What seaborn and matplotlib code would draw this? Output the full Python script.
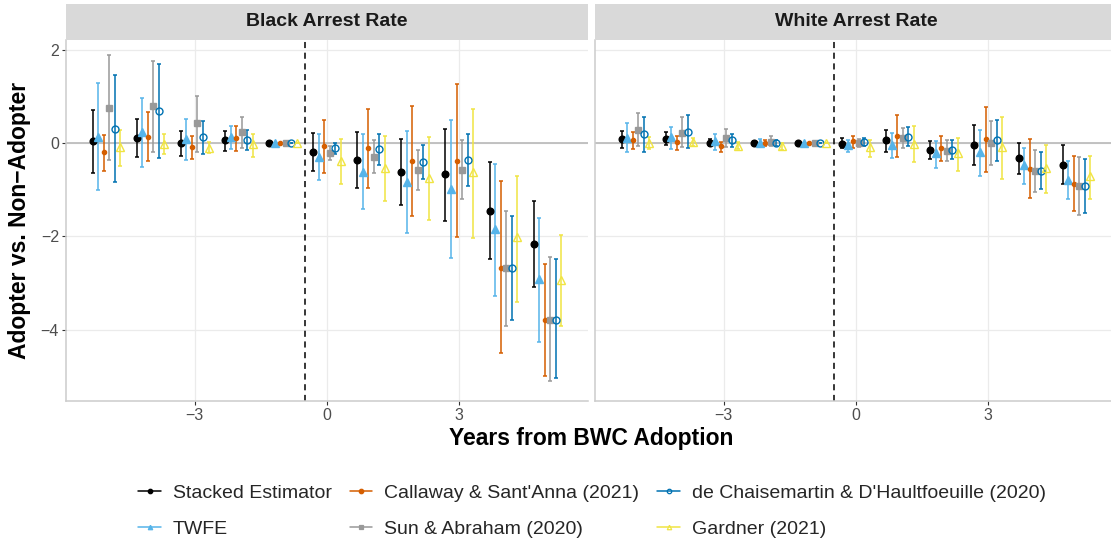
import matplotlib
matplotlib.use("Agg")
import matplotlib.pyplot as plt
from matplotlib.lines import Line2D
import numpy as np
import pandas as pd
import seaborn as sns

# ---- data -------------------------------------------------------------
EVENT_TIME = [-5, -4, -3, -2, -1, 0, 1, 2, 3, 4, 5]
PANELS = ["Black Arrest Rate", "White Arrest Rate"]
ESTIMATORS = [
    "Stacked Estimator",
    "TWFE",
    "Callaway & Sant'Anna (2021)",
    "Sun & Abraham (2020)",
    "de Chaisemartin & D'Haultfoeuille (2020)",
    "Gardner (2021)",
]

# Black arrest rate: point estimates and 95% CI bounds
black_stacked_est = [0.04, 0.11, 0.00, 0.06, 0, -0.19, -0.36, -0.61, -0.67, -1.46, -2.16]
black_stacked_lo = [-0.63, -0.29, -0.27, -0.16, 0, -0.59, -0.96, -1.32, -1.66, -2.49, -3.09]
black_stacked_hi = [0.70, 0.51, 0.25, 0.27, 0, 0.21, 0.24, 0.09, 0.31, -0.41, -1.24]

black_twfe_est = [0.14, 0.23, 0.09, 0.14, 0, -0.30, -0.61, -0.83, -0.98, -1.84, -2.91]
black_twfe_lo = [-1.00, -0.51, -0.36, -0.13, 0, -0.79, -1.41, -1.93, -2.47, -3.27, -4.26]
black_twfe_hi = [1.29, 0.96, 0.51, 0.37, 0, 0.19, 0.19, 0.25, 0.49, -0.44, -1.60]

black_cs_est = [-0.19, 0.14, -0.09, 0.10, 0, -0.07, -0.11, -0.39, -0.39, -2.67, -3.80]
black_cs_lo = [-0.59, -0.39, -0.34, -0.16, 0, -0.65, -0.96, -1.56, -2.02, -4.50, -5.00]
black_cs_hi = [0.18, 0.66, 0.16, 0.36, 0, 0.50, 0.74, 0.79, 1.27, -0.82, -2.59]

black_sa_est = [0.75, 0.80, 0.43, 0.24, 0, -0.21, -0.30, -0.57, -0.57, -2.68, -3.80]
black_sa_lo = [-0.36, -0.20, -0.20, -0.10, 0, -0.36, -0.64, -1.00, -1.20, -3.91, -5.09]
black_sa_hi = [1.88, 1.77, 1.02, 0.55, 0, -0.07, 0.06, -0.14, 0.06, -1.46, -2.43]

black_dcdh_est = [0.31, 0.69, 0.13, 0.06, 0, -0.11, -0.13, -0.40, -0.36, -2.68, -3.80]
black_dcdh_lo = [-0.83, -0.31, -0.23, -0.14, 0, -0.24, -0.46, -0.76, -0.91, -3.79, -5.04]
black_dcdh_hi = [1.45, 1.70, 0.48, 0.29, 0, 0.01, 0.19, -0.05, 0.20, -1.56, -2.49]

black_gardner_est = [-0.09, -0.02, -0.11, -0.01, 0, -0.38, -0.53, -0.74, -0.62, -2.02, -2.93]
black_gardner_lo = [-0.49, -0.24, -0.21, -0.29, 0, -0.87, -1.23, -1.64, -2.04, -3.40, -3.91]
black_gardner_hi = [0.29, 0.19, 0.02, 0.19, 0, 0.09, 0.16, 0.13, 0.73, -0.70, -1.96]

# White arrest rate: point estimates and 95% CI bounds
white_stacked_est = [0.08, 0.09, 0.01, 0.01, 0, -0.01, 0.06, -0.14, -0.03, -0.32, -0.46]
white_stacked_lo = [-0.11, -0.05, -0.06, -0.02, 0, -0.11, -0.19, -0.35, -0.46, -0.66, -0.88]
white_stacked_hi = [0.25, 0.23, 0.09, 0.04, 0, 0.10, 0.29, 0.05, 0.39, 0.01, -0.04]

white_twfe_est = [0.11, 0.14, 0.04, 0.01, 0, -0.05, -0.03, -0.21, -0.19, -0.47, -0.78]
white_twfe_lo = [-0.19, -0.12, -0.14, -0.07, 0, -0.19, -0.31, -0.53, -0.71, -0.88, -1.20]
white_twfe_hi = [0.43, 0.34, 0.19, 0.09, 0, 0.06, 0.22, 0.04, 0.29, -0.11, -0.39]

white_cs_est = [0.07, 0.02, -0.07, 0.01, 0, 0.04, 0.15, -0.10, 0.09, -0.55, -0.87]
white_cs_lo = [-0.13, -0.14, -0.19, -0.07, 0, -0.11, -0.29, -0.39, -0.61, -1.17, -1.46]
white_cs_hi = [0.23, 0.16, 0.02, 0.07, 0, 0.16, 0.60, 0.16, 0.77, 0.09, -0.28]

white_sa_est = [0.29, 0.22, 0.11, 0.02, 0, 0.01, 0.11, -0.16, 0.01, -0.59, -0.91]
white_sa_lo = [-0.07, -0.09, -0.09, -0.06, 0, -0.08, -0.11, -0.39, -0.46, -1.05, -1.53]
white_sa_hi = [0.64, 0.56, 0.30, 0.15, 0, 0.09, 0.32, 0.07, 0.47, -0.14, -0.30]

white_dcdh_est = [0.19, 0.24, 0.06, 0.01, 0, 0.02, 0.14, -0.14, 0.06, -0.59, -0.91]
white_dcdh_lo = [-0.20, -0.11, -0.09, -0.06, 0, -0.06, -0.06, -0.34, -0.39, -0.99, -1.50]
white_dcdh_hi = [0.57, 0.61, 0.19, 0.07, 0, 0.11, 0.34, 0.06, 0.49, -0.18, -0.34]

white_gardner_est = [0.00, 0.02, -0.06, -0.06, 0, -0.09, -0.01, -0.21, -0.09, -0.53, -0.71]
white_gardner_lo = [-0.12, -0.06, -0.12, -0.15, 0, -0.30, -0.40, -0.60, -0.77, -1.06, -1.19]
white_gardner_hi = [0.13, 0.10, 0.02, 0.01, 0, 0.07, 0.36, 0.11, 0.57, -0.03, -0.27]

X_TICKS = [-3, 0, 3]
X_TICK_LABELS = ["\u22123", "0", "3"]
Y_TICKS = [2, 0, -2, -4]
Y_TICK_LABELS = ["2", "0", "\u22122", "\u22124"]

# ---- tidy table -------------------------------------------------------
series = {
    ("Black Arrest Rate", ESTIMATORS[0]): (black_stacked_est, black_stacked_lo, black_stacked_hi),
    ("Black Arrest Rate", ESTIMATORS[1]): (black_twfe_est, black_twfe_lo, black_twfe_hi),
    ("Black Arrest Rate", ESTIMATORS[2]): (black_cs_est, black_cs_lo, black_cs_hi),
    ("Black Arrest Rate", ESTIMATORS[3]): (black_sa_est, black_sa_lo, black_sa_hi),
    ("Black Arrest Rate", ESTIMATORS[4]): (black_dcdh_est, black_dcdh_lo, black_dcdh_hi),
    ("Black Arrest Rate", ESTIMATORS[5]): (black_gardner_est, black_gardner_lo, black_gardner_hi),
    ("White Arrest Rate", ESTIMATORS[0]): (white_stacked_est, white_stacked_lo, white_stacked_hi),
    ("White Arrest Rate", ESTIMATORS[1]): (white_twfe_est, white_twfe_lo, white_twfe_hi),
    ("White Arrest Rate", ESTIMATORS[2]): (white_cs_est, white_cs_lo, white_cs_hi),
    ("White Arrest Rate", ESTIMATORS[3]): (white_sa_est, white_sa_lo, white_sa_hi),
    ("White Arrest Rate", ESTIMATORS[4]): (white_dcdh_est, white_dcdh_lo, white_dcdh_hi),
    ("White Arrest Rate", ESTIMATORS[5]): (white_gardner_est, white_gardner_lo, white_gardner_hi),
}
rows = []
for (panel, name), (est, lo, hi) in series.items():
    for t, e, l, h in zip(EVENT_TIME, est, lo, hi):
        rows.append(dict(outcome=panel, estimator=name, t=t, est=e, lo=l, hi=h))
df = pd.DataFrame(rows)

# ---- styling ----------------------------------------------------------
sns.set_theme(style="white")
plt.rcParams["font.family"] = ["Liberation Sans", "DejaVu Sans"]

STYLE = {
    ESTIMATORS[0]: dict(color="#000000", marker="o", filled=True, ms=4.8),
    ESTIMATORS[1]: dict(color="#56B4E9", marker="^", filled=True, ms=5.2),
    ESTIMATORS[2]: dict(color="#D55E00", marker="o", filled=True, ms=3.0),
    ESTIMATORS[3]: dict(color="#999999", marker="s", filled=True, ms=5.0),
    ESTIMATORS[4]: dict(color="#0072B2", marker="o", filled=False, ms=5.0),
    ESTIMATORS[5]: dict(color="#F0E442", marker="^", filled=False, ms=5.8),
}
DODGE = 0.125

W, H = 1111, 542
fig = plt.figure(figsize=(W / 100, H / 100), dpi=100)


def rect(x0, y0, x1, y1):
    return [x0 / W, 1 - y1 / H, (x1 - x0) / W, (y1 - y0) / H]


panel_px = [(66, 588), (595, 1117)]
top_px, bottom_px, strip_top_px = 40, 400.7, 4

for k, (panel, (x0, x1)) in enumerate(zip(PANELS, panel_px)):
    ax = fig.add_axes(rect(x0, top_px, x1, bottom_px))
    ax.set_facecolor("white")
    ax.set_xlim(-5.92, 5.92)
    ax.set_ylim(-5.52, 2.21)

    for xt in X_TICKS:
        ax.axvline(xt, color="#ebebeb", lw=0.9, zorder=0)
    for yt in Y_TICKS:
        ax.axhline(yt, color="#ebebeb", lw=0.9, zorder=0)
    ax.axhline(0, color="#bdbdbd", lw=1.3, zorder=1)
    ax.axvline(-0.5, color="black", lw=1.1, dashes=(4, 3), zorder=1)

    sub_panel = df[df.outcome == panel]
    for i, name in enumerate(ESTIMATORS):
        st = STYLE[name]
        sub = sub_panel[sub_panel.estimator == name]
        x = sub.t + (i - 2.5) * DODGE
        yerr = np.vstack([sub.est - sub.lo, sub.hi - sub.est])
        ax.errorbar(x, sub.est, yerr=yerr, fmt="none", ecolor=st["color"],
                    elinewidth=1.1, capsize=1.6, capthick=1.1, zorder=2)
        ax.plot(x, sub.est, linestyle="none", marker=st["marker"], ms=st["ms"],
                mfc=st["color"] if st["filled"] else "none", mec=st["color"],
                mew=1.0, zorder=3)

    for side in ["top", "right"]:
        ax.spines[side].set_visible(False)
    for side in ["left", "bottom"]:
        ax.spines[side].set_color("#cccccc")
        ax.spines[side].set_linewidth(1.1)

    ax.set_xticks(X_TICKS)
    ax.set_xticklabels(X_TICK_LABELS)
    ax.set_yticks(Y_TICKS)
    if k == 0:
        ax.set_yticklabels(Y_TICK_LABELS)
        ax.tick_params(axis="y", left=True, length=3, width=0.8, color="#333333",
                       labelsize=11.5, labelcolor="#4d4d4d", pad=2)
    else:
        ax.tick_params(axis="y", left=False, labelleft=False)
    ax.tick_params(axis="x", bottom=True, length=3, width=0.8, color="#333333",
                   labelsize=11.5, labelcolor="#4d4d4d", pad=2)
    ax.grid(False)

    strip = fig.add_axes(rect(x0, strip_top_px, x1, top_px))
    strip.set_facecolor("#d9d9d9")
    strip.set_xticks([])
    strip.set_yticks([])
    for s in strip.spines.values():
        s.set_visible(False)
    strip.text(0.5, 0.5, panel, ha="center", va="center", fontsize=14,
               fontweight="bold", color="#1a1a1a", transform=strip.transAxes)

fig.text(591.5 / W, 1 - 438 / H, "Years from BWC Adoption", ha="center", va="center",
         fontsize=16.5, fontweight="bold", color="black")
fig.text(20 / W, 1 - 220 / H, "Adopter vs. Non\u2212Adopter", ha="center", va="center",
         rotation=90, fontsize=16.5, fontweight="bold", color="black")

handles = []
for name in ESTIMATORS:
    st = STYLE[name]
    handles.append(Line2D([], [], color=st["color"], lw=1.1, marker=st["marker"],
                          ms=3.2,
                          mfc=st["color"] if st["filled"] else "none",
                          mec=st["color"], mew=0.9))
fig.legend(handles, ESTIMATORS, ncol=3, loc="center",
           bbox_to_anchor=(592 / W, 1 - 511 / H), frameon=False, fontsize=14,
           handlelength=1.15, handletextpad=0.6, columnspacing=0.95, labelspacing=0.92,
           borderpad=0.2)

fig.savefig("out.png", dpi=100)
